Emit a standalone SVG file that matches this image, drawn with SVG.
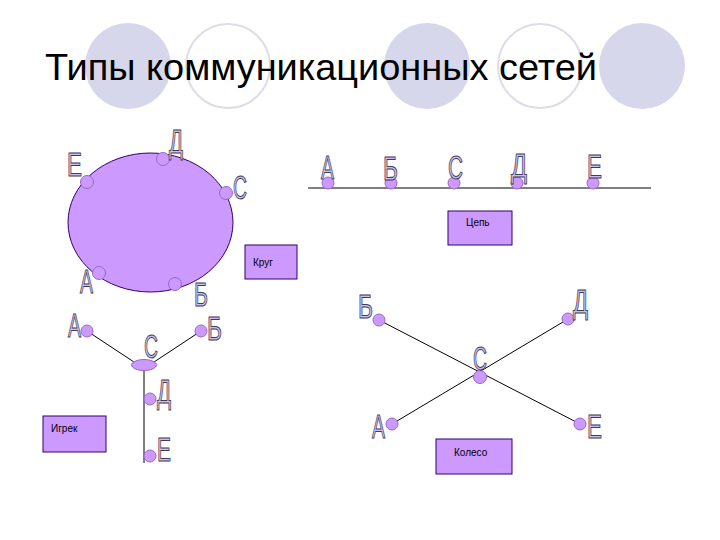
<svg xmlns="http://www.w3.org/2000/svg" width="720" height="540" viewBox="0 0 720 540">
<style>
.bgf{fill:#d7d7ec;stroke:none}
.bgo{fill:#ffffff;stroke:#dcdcea;stroke-width:2}
.title{font-family:"Liberation Sans",Arial,sans-serif;font-size:37px;fill:#000}
.node{fill:#cc99ff;stroke:#9966cc;stroke-width:1}
.big{fill:#cc99ff;stroke:#330066;stroke-width:1}
.ltr{font-family:"Liberation Sans",Arial,sans-serif;font-size:33px;fill:#cbbff5;stroke:#3d3d55;stroke-width:1}
.box{fill:#cc99ff;stroke:#330066;stroke-width:1}
.lbl{font-family:"Liberation Sans",Arial,sans-serif;font-size:10px;fill:#000}
.ln{stroke:#000;stroke-width:1;fill:none}
</style>
<g id="background">
<circle class="bgf" cx="128" cy="66" r="43"/>
<circle class="bgo" cx="228" cy="66" r="42"/>
<circle class="bgf" cx="427" cy="66" r="43"/>
<circle class="bgo" cx="540" cy="66" r="42"/>
<circle class="bgf" cx="642" cy="66" r="43"/>
</g>
<text class="title" x="45" y="80" textLength="552" lengthAdjust="spacingAndGlyphs">Типы коммуникационных сетей</text>
<g id="connectors">
<line class="ln" x1="308" y1="188" x2="651" y2="188" stroke-width="1.5"/>
<line class="ln" x1="87" y1="331" x2="134" y2="362"/>
<line class="ln" x1="201" y1="331" x2="154" y2="362"/>
<line class="ln" x1="144" y1="368" x2="144" y2="463"/>
<line class="ln" x1="379" y1="320" x2="580" y2="424"/>
<line class="ln" x1="568" y1="319" x2="392" y2="424"/>
</g>
<g id="krug">
<ellipse class="big" cx="150.5" cy="222.5" rx="82.5" ry="69.5"/>
<g id="krug-D"><circle class="node" cx="163" cy="159" r="6.5"/><text class="ltr" x="169" y="153" textLength="14" lengthAdjust="spacingAndGlyphs">Д</text></g>
<g id="krug-E"><circle class="node" cx="87" cy="182" r="6.5"/><text class="ltr" x="67" y="176" textLength="15" lengthAdjust="spacingAndGlyphs">Е</text></g>
<g id="krug-C"><circle class="node" cx="226" cy="193" r="6.5"/><text class="ltr" x="233" y="199" textLength="14" lengthAdjust="spacingAndGlyphs">С</text></g>
<g id="krug-A"><circle class="node" cx="99" cy="273" r="6.5"/><text class="ltr" x="80" y="293" textLength="13" lengthAdjust="spacingAndGlyphs">А</text></g>
<g id="krug-B"><circle class="node" cx="175" cy="284" r="6.5"/><text class="ltr" x="194" y="306" textLength="14" lengthAdjust="spacingAndGlyphs">Б</text></g>
<g id="krug-label"><rect class="box" x="245" y="245" width="52" height="34"/><text class="lbl" x="253" y="266">Круг</text></g>
</g>
<g id="chain">
<g id="chain-A"><circle class="node" cx="328" cy="183" r="6"/><text class="ltr" x="321" y="179" textLength="13" lengthAdjust="spacingAndGlyphs">А</text></g>
<g id="chain-B"><circle class="node" cx="391" cy="183" r="6"/><text class="ltr" x="383" y="180" textLength="15" lengthAdjust="spacingAndGlyphs">Б</text></g>
<g id="chain-C"><circle class="node" cx="454" cy="183" r="6"/><text class="ltr" x="448" y="179" textLength="15" lengthAdjust="spacingAndGlyphs">С</text></g>
<g id="chain-D"><circle class="node" cx="517" cy="183" r="6"/><text class="ltr" x="511" y="177" textLength="16" lengthAdjust="spacingAndGlyphs">Д</text></g>
<g id="chain-E"><circle class="node" cx="593" cy="183" r="6"/><text class="ltr" x="587" y="178" textLength="15" lengthAdjust="spacingAndGlyphs">Е</text></g>
<g id="chain-label"><rect class="box" x="448" y="211" width="64" height="34"/><text class="lbl" x="466" y="226">Цепь</text></g>
</g>
<g id="igrek">
<g id="y-A"><circle class="node" cx="87" cy="331" r="6"/><text class="ltr" x="68" y="337" textLength="13" lengthAdjust="spacingAndGlyphs">А</text></g>
<g id="y-B"><circle class="node" cx="201" cy="331" r="6"/><text class="ltr" x="207" y="340" textLength="15" lengthAdjust="spacingAndGlyphs">Б</text></g>
<g id="y-C"><ellipse class="node" cx="144" cy="365" rx="12.5" ry="5.5"/><text class="ltr" x="144" y="358" textLength="14" lengthAdjust="spacingAndGlyphs">С</text></g>
<g id="y-D"><circle class="node" cx="150" cy="399" r="6"/><text class="ltr" x="157" y="403" textLength="14" lengthAdjust="spacingAndGlyphs">Д</text></g>
<g id="y-E"><circle class="node" cx="150" cy="456" r="6"/><text class="ltr" x="157" y="461" textLength="14" lengthAdjust="spacingAndGlyphs">Е</text></g>
<g id="igrek-label"><rect class="box" x="43" y="416" width="63" height="36"/><text class="lbl" x="51" y="432">Игрек</text></g>
</g>
<g id="koleso">
<g id="w-B"><circle class="node" cx="379" cy="320" r="6"/><text class="ltr" x="358" y="318" textLength="15" lengthAdjust="spacingAndGlyphs">Б</text></g>
<g id="w-D"><circle class="node" cx="568" cy="319" r="6"/><text class="ltr" x="573" y="313" textLength="15" lengthAdjust="spacingAndGlyphs">Д</text></g>
<g id="w-C"><circle class="node" cx="480" cy="377" r="6.5"/><text class="ltr" x="473" y="370" textLength="14" lengthAdjust="spacingAndGlyphs">С</text></g>
<g id="w-A"><circle class="node" cx="392" cy="424" r="6"/><text class="ltr" x="372" y="438" textLength="13" lengthAdjust="spacingAndGlyphs">А</text></g>
<g id="w-E"><circle class="node" cx="580" cy="424" r="6"/><text class="ltr" x="587" y="438" textLength="15" lengthAdjust="spacingAndGlyphs">Е</text></g>
<g id="koleso-label"><rect class="box" x="436" y="439" width="76" height="35"/><text class="lbl" x="454" y="456">Колесо</text></g>
</g>
</svg>
